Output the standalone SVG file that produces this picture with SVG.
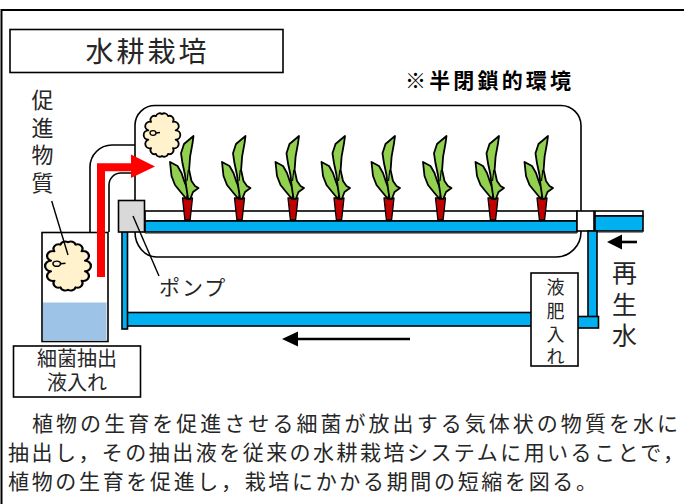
<svg xmlns="http://www.w3.org/2000/svg" width="684" height="504" viewBox="0 0 684 504">
  <style>
    .ln { fill: none; stroke: #000; stroke-width: 1.6; }
    .box { fill: #fff; stroke: #000; stroke-width: 1.6; }
    .pipe { fill: #00b0f0; stroke: #000; stroke-width: 1.6; }
    .strip { fill: #fff; stroke: #000; stroke-width: 1.6; }
    .jp { font-family: "Noto Sans CJK JP", "Noto Sans", sans-serif; fill: #262626; }
    .mid { text-anchor: middle; }
    .cloud { fill: #fff2cc; stroke: #000; stroke-width: 1.8; stroke-linejoin: round; }
    .leaf { fill: #92d050; stroke: #000; stroke-width: 1.8; stroke-linejoin: round; }
    .pot { fill: #c00000; stroke: #000; stroke-width: 1.3; stroke-linejoin: round; }
    .arrow { stroke: #000; stroke-width: 2.6; fill: none; }
  </style>
  <defs>
    <!-- bumpy bacteria colony, about 32 x 46 -->
    <g id="colony">
      <path class="cloud" d="M16,2 A4,4 0 0 1 22.07,4.08 A4,4 0 0 1 26.95,9.91 A4,4 0 0 1 29.65,18.33 A4,4 0 0 1 29.65,27.67 A4,4 0 0 1 26.95,36.09 A4,4 0 0 1 22.07,41.92 A4,4 0 0 1 16,44 A4,4 0 0 1 9.93,41.92 A4,4 0 0 1 5.05,36.09 A4,4 0 0 1 2.35,27.67 A4,4 0 0 1 2.35,18.33 A4,4 0 0 1 5.05,9.91 A4,4 0 0 1 9.93,4.08 A4,4 0 0 1 16,2 Z"/>
      <ellipse cx="7" cy="21" rx="3" ry="2.3" fill="none" stroke="#000" stroke-width="1.3"/>
      <path d="M10,21 L14,20.5" stroke="#000" stroke-width="1.3"/>
    </g>
    <!-- seedling in a red cup; origin at the cup rim centre -->
    <g id="plant">
      <path class="pot" d="M-5,0 L5,0 L2.6,22 L-2.6,22 Z"/>
      <path class="leaf" d="M-1,1 L-6,-5 L-12.5,-13 L-16,-22 L-17.5,-36 L-10,-32 L-6,-25 L-3,-16 L1,-6 Z"/>
      <path class="leaf" d="M0.6,1 L-1.5,-13 L-2.5,-23 L-5,-34.7 L-6.5,-44.7 L-3.5,-54 L6,-62 L5,-54.7 L2.6,-41.3 L1.6,-28 L4,-17 L7.5,-12 L11,-10 L5.5,-6 L2.8,1 Z"/>
      <path d="M0.8,-28 L-0.5,-17" stroke="#000" stroke-width="1.2" fill="none"/>
    </g>
  </defs>

  <rect width="684" height="504" fill="#fff"/>

  <!-- outer frame -->
  <g id="frame">
    <path d="M1.5,504 V10 H684" fill="none" stroke="#000" stroke-width="2"/>
  </g>

  <!-- heading -->
  <g id="title">
    <rect class="box" x="10" y="29.5" width="273" height="43"/>
    <text class="jp mid" x="147.5" y="61.5" font-size="28" letter-spacing="3">水耕栽培</text>
  </g>

  <g id="note">
    <text x="405" y="88" font-family="'Noto Sans CJK JP', sans-serif" font-size="21" font-weight="bold" fill="#000" textLength="166" lengthAdjust="spacing">※半閉鎖的環境</text>
  </g>

  <g id="label-promoter">
    <text class="jp mid" x="42.5" y="108" font-size="22">促</text>
    <text class="jp mid" x="42.5" y="135.5" font-size="22">進</text>
    <text class="jp mid" x="42.5" y="163" font-size="22">物</text>
    <text class="jp mid" x="42.5" y="190.5" font-size="22">質</text>
  </g>

  <!-- semi-closed growing enclosure -->
  <g id="enclosure">
    <path class="ln" d="M135,200 V125 A20,20 0 0 1 155,105.5 H561 A20,20 0 0 1 581,125.5 V232 A25,25 0 0 1 556,257 H157 A22,25 0 0 1 135,232"/>
  </g>

  <!-- tube from the culture jar into the enclosure -->
  <g id="duct">
    <path class="ln" d="M90,232 V167 A22,22 0 0 1 112,145 H135"/>
    <path class="ln" d="M109,232 V185 A12,12 0 0 1 121,173 H135"/>
  </g>

  <!-- culture jar -->
  <g id="jar">
    <rect class="box" x="42" y="232.5" width="66" height="109"/>
    <rect x="43" y="302.5" width="63.5" height="38.2" fill="#9dc3e6"/>
    <use href="#colony" transform="translate(48,240) scale(1.25,1.13)"/>
  </g>

  <use id="colony-air" href="#colony" transform="translate(146,112)"/>

  <!-- growing tray -->
  <g id="tray">
    <rect class="strip" x="145" y="211" width="432" height="10"/>
    <rect class="pipe" x="145" y="221" width="432" height="11"/>
    <path d="M145,233.5 H577" stroke="#8c8c8c" stroke-width="1.2"/>
  </g>

  <g id="plants">
    <use href="#plant" x="187.5" y="198"/>
    <use href="#plant" x="239.5" y="198"/>
    <use href="#plant" x="293" y="198"/>
    <use href="#plant" x="339" y="198"/>
    <use href="#plant" x="389" y="198"/>
    <use href="#plant" x="440.5" y="198"/>
    <use href="#plant" x="493" y="198"/>
    <use href="#plant" x="542" y="198"/>
  </g>

  <!-- recycled water inlet -->
  <g id="inlet">
    <rect class="box" x="577" y="211" width="17" height="20"/>
    <rect class="strip" x="595" y="211" width="48" height="5"/>
    <rect class="pipe" x="595" y="216" width="48" height="15"/>
    <path d="M595,232.5 H643" stroke="#8c8c8c" stroke-width="1.2"/>
    <rect class="pipe" x="588" y="231" width="9" height="86"/>
    <rect class="pipe" x="577.5" y="316.5" width="21" height="11.5"/>
  </g>

  <!-- return line -->
  <g id="return">
    <rect class="pipe" x="127" y="312.5" width="405" height="13.5"/>
    <rect class="pipe" x="122" y="232" width="5.5" height="97"/>
  </g>

  <g id="pump">
    <rect x="118.5" y="200.5" width="26" height="31.5" fill="#d9d9d9" stroke="#000" stroke-width="1.6"/>
  </g>

  <g id="label-pump">
    <text class="jp" x="159" y="295" font-size="21" letter-spacing="2">ポンプ</text>
  </g>

  <g id="fertilizer">
    <rect class="box" x="531" y="273" width="47" height="93"/>
    <text class="jp mid" x="555.5" y="293.5" font-size="18">液</text>
    <text class="jp mid" x="555.5" y="317.5" font-size="18">肥</text>
    <text class="jp mid" x="555.5" y="340.5" font-size="18">入</text>
    <text class="jp mid" x="555.5" y="362.5" font-size="18">れ</text>
  </g>

  <g id="label-water">
    <text class="jp mid" x="624.5" y="281.5" font-size="25">再</text>
    <text class="jp mid" x="624.5" y="313.5" font-size="25">生</text>
    <text class="jp mid" x="624.5" y="344.5" font-size="25">水</text>
  </g>

  <g id="extract-box">
    <rect class="box" x="13.5" y="346" width="127" height="51"/>
    <text class="jp mid" x="77" y="365.5" font-size="20">細菌抽出</text>
    <text class="jp mid" x="77" y="389.5" font-size="20">液入れ</text>
  </g>

  <!-- leaders, gas flow and water flow -->
  <g id="connectors">
    <path d="M51.7,201 L68,255" stroke="#000" stroke-width="1.4"/>
    <path d="M133,216 L159,276" stroke="#000" stroke-width="1.4"/>
    <path d="M101,277 V167.3 H133" stroke="#ff0000" stroke-width="8" fill="none" stroke-linejoin="miter"/>
    <polygon points="131,154.5 155,166.5 131,178" fill="#ff0000"/>
    <path class="arrow" d="M410,339 H295"/>
    <polygon points="282,339 298,331.5 298,346.5" fill="#000"/>
    <path class="arrow" d="M637,242 H620"/>
    <polygon points="607,242 622,234.5 622,249.5" fill="#000"/>
  </g>

  <!-- description -->
  <g id="description">
    <text class="jp" x="8" y="431" font-size="21" textLength="670" lengthAdjust="spacing">　植物の生育を促進させる細菌が放出する気体状の物質を水に</text>
    <text class="jp" x="8" y="460" font-size="21" textLength="676" lengthAdjust="spacing">抽出し，その抽出液を従来の水耕栽培システムに用いることで，</text>
    <text class="jp" x="8" y="488.5" font-size="21" textLength="589" lengthAdjust="spacing">植物の生育を促進し，栽培にかかる期間の短縮を図る。</text>
  </g>
</svg>
